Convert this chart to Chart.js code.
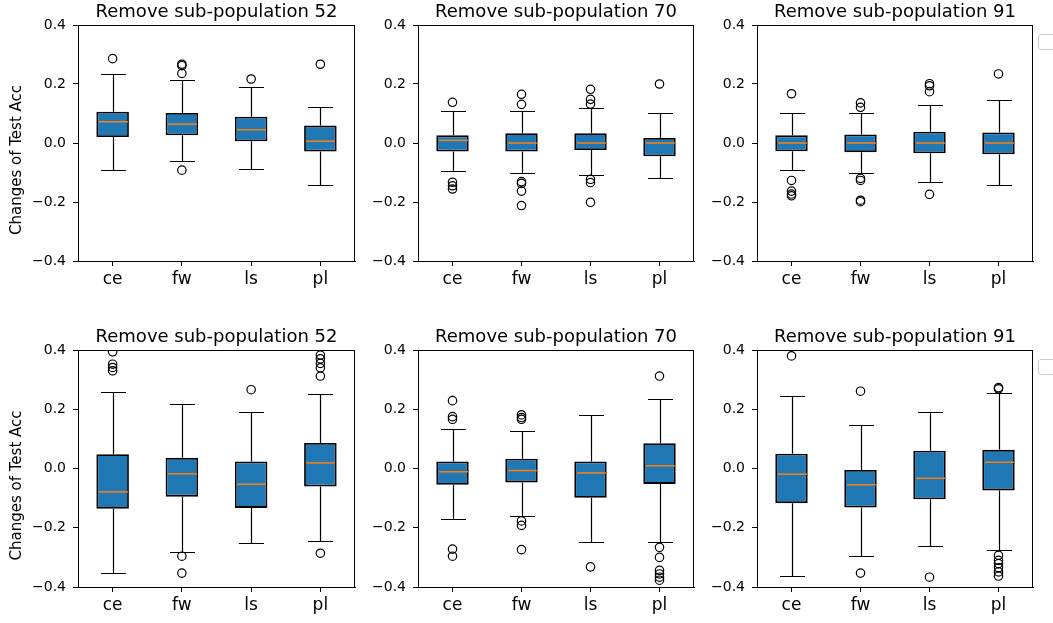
<!DOCTYPE html>
<html>
<head>
<meta charset="utf-8">
<script src="https://cdn.jsdelivr.net/npm/chart.js"></script>
<style>
  body { margin: 0; background: #fff; }
  #wrap { position: relative; width: 1053px; height: 623px; overflow: hidden; }
  #wrap canvas { position: absolute; }
  .legend-box { position: absolute; left: 1038px; width: 16px; height: 14px; border: 1px solid #ccc; border-radius: 3px; background: #fff; }
</style>
</head>
<body>
<div id="wrap">
  <div class="legend-box" style="top: 34px;"></div>
  <div class="legend-box" style="top: 359px;"></div>
</div>
<script>
// data
// panels: 0-2 top row (52, 70, 91), 3-5 bottom row (52, 70, 91)
const categories = ['ce', 'fw', 'ls', 'pl']
const panelTitles = ['Remove sub-population 52', 'Remove sub-population 70', 'Remove sub-population 91',
                     'Remove sub-population 52', 'Remove sub-population 70', 'Remove sub-population 91']
const yTicks = [-0.4, -0.2, 0.0, 0.2, 0.4]
const yLabel = 'Changes of Test Acc'

const whiskerHigh = [
  [0.234, 0.214, 0.190, 0.121],
  [0.108, 0.108, 0.118, 0.102],
  [0.102, 0.102, 0.128, 0.147],
  [0.259, 0.219, 0.192, 0.250],
  [0.133, 0.126, 0.181, 0.235],
  [0.245, 0.146, 0.192, 0.254],
]
const boxHigh = [
  [0.106, 0.102, 0.089, 0.059],
  [0.026, 0.033, 0.033, 0.017],
  [0.026, 0.029, 0.038, 0.036],
  [0.048, 0.036, 0.024, 0.086],
  [0.024, 0.033, 0.024, 0.085],
  [0.050, -0.005, 0.060, 0.063],
]
const medians = [
  [0.072, 0.064, 0.045, 0.006],
  [0.009, 0.000, 0.000, 0.000],
  [0.000, 0.000, 0.000, 0.000],
  [-0.079, -0.018, -0.053, 0.019],
  [-0.011, -0.007, -0.015, 0.009],
  [-0.019, -0.055, -0.033, 0.021],
]
const boxLow = [
  [0.020, 0.026, 0.006, -0.029],
  [-0.029, -0.029, -0.024, -0.045],
  [-0.028, -0.031, -0.035, -0.038],
  [-0.136, -0.095, -0.133, -0.061],
  [-0.055, -0.047, -0.099, -0.052],
  [-0.117, -0.132, -0.104, -0.074],
]
const whiskerLow = [
  [-0.092, -0.060, -0.088, -0.142],
  [-0.096, -0.102, -0.107, -0.118],
  [-0.092, -0.101, -0.131, -0.142],
  [-0.353, -0.282, -0.250, -0.246],
  [-0.169, -0.159, -0.248, -0.249],
  [-0.364, -0.294, -0.261, -0.276],
]
const outliers = [
  [[0.286], [0.267, 0.262, 0.236, -0.092], [0.217], [0.267]],
  [[0.138, -0.133, -0.145, -0.156], [0.165, 0.131, -0.131, -0.137, -0.163, -0.212],
   [0.182, 0.148, 0.132, -0.123, -0.134, -0.201], [0.200]],
  [[0.167, -0.127, -0.163, -0.173, -0.179], [0.136, 0.121, -0.120, -0.127, -0.194, -0.199],
   [0.201, 0.194, 0.174, -0.174], [0.234]],
  [[0.394, 0.352, 0.341, 0.330], [-0.296, -0.353], [0.266],
   [0.383, 0.370, 0.355, 0.340, 0.312, -0.286]],
  [[0.229, 0.175, 0.166, -0.272, -0.296], [0.181, 0.172, 0.166, -0.177, -0.192, -0.274], [-0.332],
   [0.312, -0.266, -0.300, -0.344, -0.356, -0.367, -0.377]],
  [[0.380], [0.261, -0.353], [-0.367],
   [0.273, 0.269, -0.293, -0.310, -0.321, -0.335, -0.349, -0.363]],
]

// layout (pixels of the plot areas)
const panelLeft = [78, 418, 757]
const panelWidth = [277, 276, 276]
const panelTop = [25, 350]
const panelHeight = [236, 237]
const titleH = 25
const xAxisH = 36
const padRight = 6

Chart.defaults.font.family = "'DejaVu Sans', sans-serif"
Chart.defaults.color = '#000'

const crisp = v => Math.round(v) + 0.5

// whiskers, caps, medians and the frame, placed with the chart's scales
const boxParts = {
  id: 'boxParts',
  afterDatasetsDraw(chart, args, opts) {
    const p = opts.panel
    const {ctx, chartArea, scales: {x, y}} = chart
    const bars = chart.getDatasetMeta(0).data
    ctx.save()
    categories.forEach((c, i) => {
      const cx = crisp(x.getPixelForValue(i))
      const half = bars[i].width / 2
      const cap = half * 0.77
      const yHi = crisp(y.getPixelForValue(whiskerHigh[p][i]))
      const yQ3 = y.getPixelForValue(boxHigh[p][i])
      const yQ1 = y.getPixelForValue(boxLow[p][i])
      const yLo = crisp(y.getPixelForValue(whiskerLow[p][i]))
      ctx.strokeStyle = '#000'
      ctx.lineWidth = 1.2
      ctx.beginPath()
      ctx.moveTo(cx, yQ3); ctx.lineTo(cx, yHi)
      ctx.moveTo(cx, yQ1); ctx.lineTo(cx, yLo)
      ctx.moveTo(cx - cap, yHi); ctx.lineTo(cx + cap, yHi)
      ctx.moveTo(cx - cap, yLo); ctx.lineTo(cx + cap, yLo)
      ctx.stroke()
      const yMed = y.getPixelForValue(medians[p][i])
      ctx.beginPath()
      ctx.strokeStyle = '#ff7f0e'
      ctx.lineWidth = 1.5
      ctx.moveTo(cx - half + 1.8, yMed); ctx.lineTo(cx + half - 1.8, yMed)
      ctx.stroke()
    })
    ctx.strokeStyle = '#000'
    ctx.lineWidth = 1
    ctx.strokeRect(chartArea.left + 0.5, chartArea.top + 0.5,
                   chartArea.right - chartArea.left - 1, chartArea.bottom - chartArea.top)
    if (opts.yLabel) {
      ctx.font = "15px 'DejaVu Sans'"
      ctx.fillStyle = '#000'
      ctx.textAlign = 'center'
      ctx.textBaseline = 'middle'
      ctx.translate(17, (chartArea.top + chartArea.bottom) / 2 + 17)
      ctx.rotate(-Math.PI / 2)
      ctx.fillText(opts.yLabel, 0, 0)
    }
    ctx.restore()
  }
}

const wrap = document.getElementById('wrap')

function makePanel(p) {
  const col = p % 3
  const row = Math.floor(p / 3)
  const yAxisW = col === 0 ? 78 : 60
  const canvas = document.createElement('canvas')
  canvas.width = yAxisW + panelWidth[col] + padRight
  canvas.height = titleH + panelHeight[row] + xAxisH
  canvas.style.left = (panelLeft[col] - yAxisW) + 'px'
  canvas.style.top = (panelTop[row] - titleH) + 'px'
  wrap.appendChild(canvas)

  const points = []
  categories.forEach((c, i) => {
    outliers[p][i].forEach(v => points.push({x: c, y: v}))
  })

  return new Chart(canvas, {
    type: 'bar',
    data: {
      labels: categories,
      datasets: [
        {
          data: categories.map((c, i) => [boxLow[p][i], boxHigh[p][i]]),
          backgroundColor: '#1f77b4',
          borderColor: '#000',
          borderWidth: 1.8,
          borderSkipped: false,
          barPercentage: 0.47,
          categoryPercentage: 1,
        },
        {
          type: 'scatter',
          data: points,
          pointStyle: 'circle',
          pointRadius: 4.2,
          pointBorderWidth: 1.2,
          pointBorderColor: '#000',
          pointBackgroundColor: 'rgba(0,0,0,0)',
        },
      ]
    },
    options: {
      responsive: false,
      animation: false,
      devicePixelRatio: 1,
      layout: { padding: { left: 0, top: 0, right: padRight, bottom: 0 } },
      plugins: {
        legend: { display: false },
        tooltip: { enabled: false },
        title: {
          display: true,
          text: panelTitles[p],
          fullSize: false,
          color: '#000',
          font: { size: 18, lineHeight: '20px', weight: 'normal' },
          padding: { top: 2, bottom: 3 },
        },
        boxParts: { panel: p, yLabel: col === 0 ? yLabel : null },
      },
      scales: {
        x: {
          type: 'category',
          offset: true,
          grid: { offset: false, drawOnChartArea: false, drawTicks: true, tickLength: 5, color: '#000' },
          border: { display: true, color: '#000' },
          ticks: { font: { size: 17 }, padding: 3, color: '#000', maxRotation: 0 },
          afterFit: s => { s.height = xAxisH },
        },
        y: {
          min: -0.4,
          max: 0.4,
          grid: { drawOnChartArea: false, drawTicks: true, tickLength: 5, color: '#000' },
          border: { display: true, color: '#000' },
          afterBuildTicks: s => { s.ticks = yTicks.map(v => ({value: v})) },
          ticks: {
            font: { size: 14 },
            padding: 7,
            color: '#000',
            callback: v => {
              const r = Math.round(v * 10) / 10
              return (r < 0 ? '\u2212' : '') + Math.abs(r).toFixed(1)
            },
          },
          afterFit: s => { s.width = yAxisW },
        },
      },
    },
    plugins: [boxParts],
  })
}

for (let p = 0; p < 6; p++) makePanel(p)
</script>
</body>
</html>
